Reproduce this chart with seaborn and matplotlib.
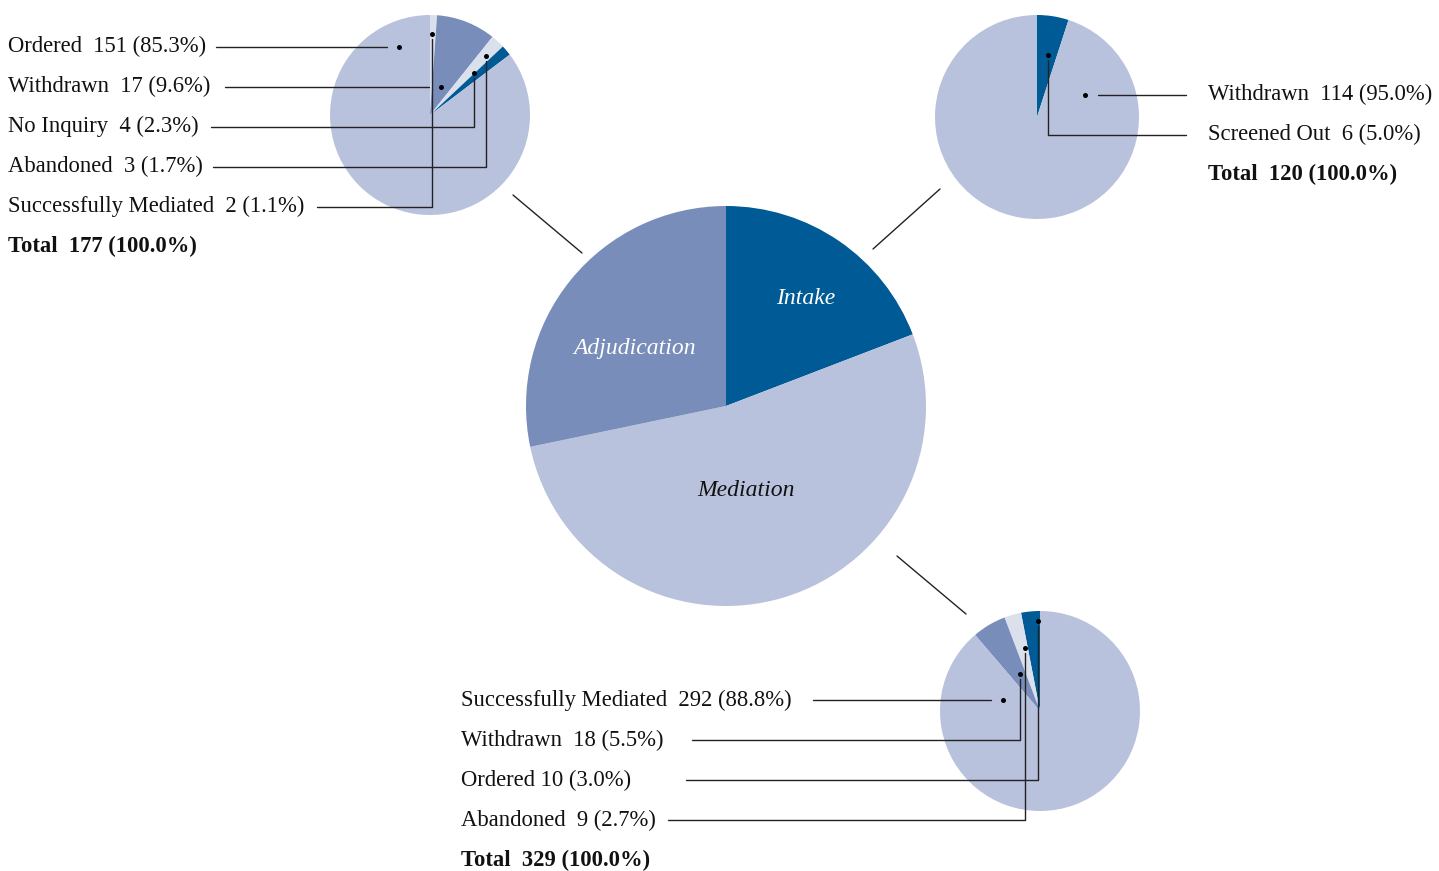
import matplotlib
matplotlib.use("Agg")
import matplotlib.pyplot as plt
import seaborn as sns
import numpy as np

# ---------------- data ----------------
stages = ["Intake", "Mediation", "Adjudication"]
stage_counts = [120, 329, 177]

# Adjudication breakdown (wedge order, clockwise from top)
adj_cats = ["Successfully Mediated", "Withdrawn", "No Inquiry", "Abandoned", "Ordered"]
adj_counts = [2, 17, 4, 3, 151]
adj_label_order = ["Ordered", "Withdrawn", "No Inquiry", "Abandoned", "Successfully Mediated"]

# Intake breakdown
intake_cats = ["Screened Out", "Withdrawn"]
intake_counts = [6, 114]
intake_label_order = ["Withdrawn", "Screened Out"]

# Mediation breakdown (wedge order, counter-clockwise from top)
med_cats = ["Ordered", "Abandoned", "Withdrawn", "Successfully Mediated"]
med_counts = [10, 9, 18, 292]
med_label_order = ["Successfully Mediated", "Withdrawn", "Ordered", "Abandoned"]

# ---------------- style ----------------
sns.set_theme(style="white")
plt.rcParams["font.family"] = ["Liberation Serif", "DejaVu Serif"]
DARK, MED, LIGHT, PALE = "#005a96", "#788db9", "#b9c2dc", "#dbe0ed"
FS = 16.3
LC = "#222222"
LW = 1.0

W, H = 1439, 871
fig = plt.figure(figsize=(W / 100, H / 100), dpi=100)
ax = fig.add_axes([0, 0, 1, 1])


def P(x, y):
    return (x, H - y)


def pie(counts, colors, center, r, counterclock):
    wedges, _ = ax.pie(counts, colors=colors, startangle=90, counterclock=counterclock,
                       center=P(*center), radius=r, frame=True,
                       wedgeprops=dict(linewidth=0))
    return wedges


# main pie
main_w = pie(stage_counts, [DARK, LIGHT, MED], (726, 406), 200, False)
# label placement inside wedges: (angle deg, radius fraction, colour)
main_lab = {"Intake": (54, 0.68, "white"), "Mediation": (-76, 0.42, "#111111"),
            "Adjudication": (146.5, 0.55, "white")}
for w, name in zip(main_w, stages):
    ang, rf, col = main_lab[name]
    a = np.deg2rad(ang)
    cx, cy = w.center
    ax.text(cx + rf * w.r * np.cos(a), cy + rf * w.r * np.sin(a) - 3, name, ha="center", va="center",
            fontsize=17, style="italic", color=col)

# small pies
adj_w = pie(adj_counts, [PALE, MED, PALE, DARK, LIGHT], (430, 115), 100, False)
int_w = pie(intake_counts, [DARK, LIGHT], (1037, 117), 102, False)
med_w = pie(med_counts, [DARK, PALE, MED, LIGHT], (1040, 711), 100, True)

# connector lines between main pie and detail pies
for (x1, y1), (x2, y2) in [((513, 195), (582, 253)), ((873, 249), (940, 189)), ((897, 556), (966, 614))]:
    ax.plot([x1, x2], [H - y1, H - y2], color=LC, lw=LW)

ax.set_xlim(0, W)
ax.set_ylim(0, H)
ax.set_axis_off()

# anchor dots (angle deg, radius fraction) for each category
adj_anchor = {"Ordered": (114, .76), "Withdrawn": (68.5, .30), "No Inquiry": (43.7, .61),
              "Abandoned": (46.5, .81), "Successfully Mediated": (88.6, .81)}
int_anchor = {"Withdrawn": (26.6, .53), "Screened Out": (80, .62)}
med_anchor = {"Successfully Mediated": (169, .38), "Withdrawn": (118, .42),
              "Ordered": (91, .90), "Abandoned": (103, .65)}
# gap between label text and start of leader line
adj_gap = {"Ordered": 10, "Withdrawn": 15, "No Inquiry": 12, "Abandoned": 10, "Successfully Mediated": 13}
int_gap = {"Withdrawn": 22, "Screened Out": 22}
med_gap = {"Successfully Mediated": 21, "Withdrawn": 28, "Ordered": 55, "Abandoned": 12}

fig.canvas.draw()
renderer = fig.canvas.get_renderer()
inv = ax.transData.inverted()


def detail(cats, counts, order, wedges, anchors, gaps, x0, y0, side, sep=None):
    total = sum(counts)
    cx, cy = wedges[0].center
    r = wedges[0].r
    step = 40
    for i, name in enumerate(order):
        c = counts[cats.index(name)]
        gap = "  " if not (sep and name in sep) else " "
        txt = f"{name}{gap}{c} ({100 * c / total:.1f}%)"
        tc = y0 + i * step                 # visual text centre (px from top)
        ly = H - (tc + 1.5)                # leader line height
        t = ax.text(x0, H - (tc + 1.5), txt, ha="left", va="center", fontsize=FS, color="#111111")
        ang, rf = anchors[name]
        a = np.deg2rad(ang)
        dx, dy = cx + rf * r * np.cos(a), cy + rf * r * np.sin(a)
        bb = t.get_window_extent(renderer)
        (bx0, _), (bx1, _) = inv.transform([[bb.x0, bb.y0], [bb.x1, bb.y1]])
        g = gaps[name]
        if abs(dy - ly) < 10:
            dy = ly
            if side == "left":
                ax.plot([bx1 + g, dx - 12], [ly, ly], color=LC, lw=LW)
            else:
                ax.plot([bx0 - g, dx + 13], [ly, ly], color=LC, lw=LW)
        else:
            xs = [bx1 + g, dx, dx] if side == "left" else [bx0 - g, dx, dx]
            ys = [ly, ly, dy + (-5 if dy > ly else 5)]
            ax.plot(xs, ys, color=LC, lw=LW)
        ax.plot([dx], [dy], "o", color="black", ms=3.6, mec="none")
    tc = y0 + len(order) * step
    ax.text(x0, H - (tc + 1.5), f"Total  {total} (100.0%)", ha="left", va="center",
            fontsize=FS, fontweight="bold", color="#111111")


detail(adj_cats, adj_counts, adj_label_order, adj_w, adj_anchor, adj_gap, 8, 45, "left")
detail(intake_cats, intake_counts, intake_label_order, int_w, int_anchor, int_gap, 1208, 93, "right")
detail(med_cats, med_counts, med_label_order, med_w, med_anchor, med_gap, 461, 699, "left", sep={"Ordered"})

fig.savefig("out.png", dpi=100)
